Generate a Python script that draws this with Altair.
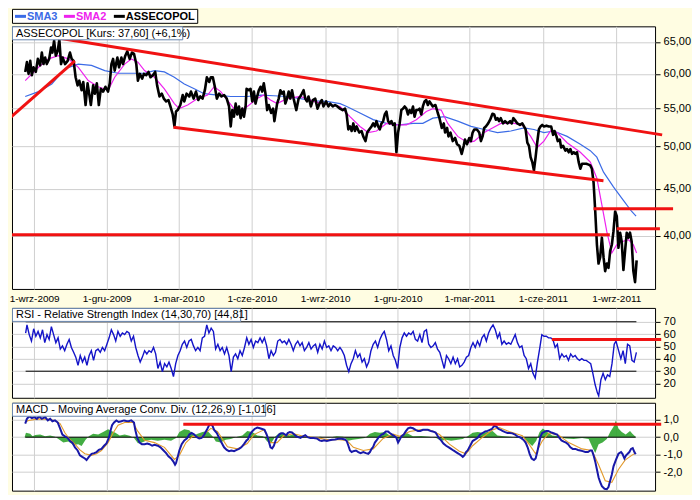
import json
import altair as alt
import pandas as pd

# ---------------------------------------------------------------- data
BASE = pd.Timestamp("2009-09-01")   # day offsets below are counted from 1-wrz-2009

price_day = [
    -11.2, -9.1, -7.0, -4.9, -2.9, -0.8, 2.1, 4.6, 7.5, 9.6,
    11.7, 13.8, 15.8, 18.8, 21.2, 22.9, 25.0, 27.1, 29.6, 31.6,
    33.7, 35.8, 38.7, 42.0, 44.9, 47.0, 49.5, 52.0, 54.5, 56.6,
    59.5, 61.6, 64.5, 67.0, 69.0, 71.1, 74.0, 76.1, 78.6, 81.1,
    83.6, 86.5, 89.4, 92.7, 94.8, 96.9, 99.0, 101.0, 104.4, 106.4,
    109.4, 111.4, 114.3, 116.8, 119.8, 122.7, 125.2, 128.1, 130.1, 132.6,
    135.5, 137.6, 140.5, 143.4, 145.9, 148.8, 151.8, 154.2, 157.2, 160.1,
    162.6, 165.5, 168.4, 170.9, 173.8, 175.9, 177.9, 180.0, 183.3, 186.3,
    188.3, 191.2, 194.6, 196.6, 200.0, 202.9, 205.8, 208.3, 211.2, 214.1,
    216.6, 219.5, 221.6, 224.1, 226.6, 229.1, 232.0, 234.9, 238.2, 241.5,
    244.4, 246.5,
    248.5, 250.6, 252.7, 254.8, 256.9, 258.9, 261.0, 263.1, 265.2, 266.4,
    269.3, 271.4, 273.5, 275.6, 277.6, 279.7, 281.8, 283.9, 286.0, 288.0,
    290.1, 292.2, 294.3, 297.2, 299.7, 301.3, 304.7, 306.7, 308.8, 310.9,
    313.0, 315.0, 317.1, 319.2, 321.3, 323.4, 325.4, 328.8, 331.7, 333.8,
    335.8, 337.9, 340.0, 342.1, 344.1, 347.1, 349.5, 352.5, 355.4, 357.9,
    360.8, 362.8, 366.2, 369.1, 371.2, 374.5, 377.4, 380.3, 383.6, 386.9,
    389.9, 391.9, 394.0, 396.1, 398.2, 400.3, 402.3, 404.4, 407.7, 410.6,
    412.7, 415.6, 417.7, 420.2, 423.1, 425.2, 427.3, 429.3, 431.4, 433.5,
    435.6, 437.7, 439.7, 441.8, 443.9, 446.0, 448.1, 450.1, 452.2, 454.3,
    456.4, 458.4, 460.5, 462.6, 464.7, 466.8, 468.8, 470.9, 473.0, 475.1,
    477.1, 479.2, 481.3, 483.4, 485.5, 487.5, 489.6, 491.7, 493.8, 495.8,
    500.0, 503.3, 506.2, 508.3,
    511.2, 513.7, 515.4, 517.9, 519.6, 522.1, 525.0, 527.9, 530.4, 533.3,
    536.2, 538.7, 540.3, 542.8, 545.7, 547.8, 549.9, 552.0, 555.3, 558.2,
    560.3, 562.4, 564.4, 566.5, 569.4, 571.9, 574.8, 576.9, 579.0, 581.1,
    583.1, 585.2, 588.1, 590.6, 593.5, 596.9, 599.0, 601.0, 603.9, 606.0,
    609.3, 612.2, 614.3, 616.4, 618.5, 620.6, 622.6, 624.7, 626.8, 628.9,
    630.9, 633.0, 635.1, 637.2, 639.3, 642.6, 645.5, 648.4, 650.9, 652.6,
    655.1, 656.7, 659.2, 660.9, 663.4, 666.3, 668.4, 670.4, 672.5, 674.6,
    676.7, 678.7, 680.8, 682.9, 685.0, 687.1, 689.1, 692.5, 695.4, 697.4,
    699.5, 701.6, 703.7, 705.8, 707.8, 709.9, 712.0, 714.1, 716.1, 718.2,
    720.3, 722.4, 724.5, 726.5, 728.6, 730.7, 732.8, 734.9, 736.9, 739.0,
    741.1, 743.2, 745.2, 747.3, 749.4, 751.5, 753.6, 755.6,
]
price_val = [
    60.3, 61.8, 60.0, 62.0, 59.8, 61.0, 60.3, 62.3, 61.3, 63.3,
    61.5, 62.5, 61.5, 62.3, 64.1, 63.3, 65.2, 62.8, 63.6, 65.4,
    61.5, 62.5, 61.5, 62.0, 63.3, 62.3, 62.0, 59.5, 58.3, 59.0,
    57.6, 58.8, 55.5, 58.6, 57.1, 55.5, 58.3, 57.1, 58.6, 55.5,
    57.8, 57.4, 58.1, 57.4, 58.6, 61.5, 62.3, 60.5, 62.5, 61.0,
    62.5, 61.5, 62.8, 63.5, 62.3, 63.3, 63.1, 61.5, 59.0, 60.0,
    59.3, 60.0, 59.8, 60.3, 59.5, 59.8, 60.3, 58.3, 56.7, 57.1,
    56.4, 56.0, 56.2, 55.3, 54.2, 52.6, 54.6, 54.8, 55.5, 56.9,
    56.0, 57.1, 56.7, 57.4, 56.4, 57.4, 56.2, 56.7, 56.4, 57.6,
    59.5, 58.8, 59.5, 59.5, 58.1, 56.4, 57.1, 56.7, 56.9, 56.4,
    55.3, 52.6,
    54.8, 53.9, 55.7, 54.2, 55.3, 53.7, 55.0, 53.9, 55.3, 57.8,
    57.6, 57.8, 56.0, 57.4, 55.7, 56.7, 57.6, 58.1, 57.4, 58.6,
    57.1, 54.8, 55.5, 54.4, 55.0, 53.3, 55.7, 56.4, 57.6, 57.1,
    57.4, 55.7, 56.4, 57.4, 56.4, 57.6, 56.4, 54.8, 56.4, 56.7,
    57.1, 57.6, 56.4, 56.0, 56.7, 55.3, 56.2, 56.4, 55.0, 55.7,
    56.2, 55.3, 56.0, 55.3, 55.7, 55.3, 55.5, 55.3, 55.0, 54.8,
    55.0, 54.2, 52.2, 52.6, 52.0, 53.0, 52.0, 52.6, 51.8, 52.0,
    51.3, 50.7, 51.8, 52.2, 52.6, 53.0, 52.6, 53.3, 52.6, 52.2,
    53.0, 53.3, 54.2, 54.6, 53.3, 53.0, 53.3, 52.8, 53.0, 49.3,
    51.8, 53.0, 54.8, 55.0, 55.3, 55.0, 54.2, 54.8, 54.4, 55.3,
    53.9, 54.8, 54.8, 55.0, 54.2, 55.3, 56.0, 56.2, 55.5, 56.0,
    55.3, 55.5, 54.4, 53.7,
    52.4, 53.0, 51.8, 52.4, 51.3, 51.8, 50.7, 51.1, 50.3, 50.1,
    49.1, 50.1, 50.9, 50.3, 51.1, 50.7, 51.8, 52.2, 52.2, 51.8,
    50.7, 51.3, 52.4, 52.6, 53.0, 53.5, 54.3, 54.2, 53.5, 53.7,
    53.3, 53.7, 53.0, 53.3, 53.0, 53.3, 53.0, 53.7, 53.3, 53.0,
    52.8, 53.0, 52.6, 52.2, 50.5, 50.1, 48.7, 48.1, 47.1, 48.7,
    50.5, 52.2, 52.6, 52.8, 52.6, 52.7, 52.6, 52.6, 51.5, 52.0,
    51.3, 50.7, 50.9, 49.9, 50.1, 49.5, 49.7, 49.3, 49.7, 49.1,
    49.3, 49.1, 49.3, 48.1, 47.3, 47.9, 47.9, 47.9, 47.8, 47.7,
    47.3, 45.7, 42.5, 39.1, 37.3, 37.9, 39.8, 37.9, 36.6, 37.3,
    36.9, 38.5, 39.1, 40.4, 42.5, 42.0, 38.8, 40.3, 39.4, 36.7,
    38.5, 40.3, 39.8, 40.3, 39.4, 36.6, 35.6, 37.6,
]

sma2_day = [
    -11.2, 5.5, 18.0, 30.4, 42.9, 55.4, 67.8, 80.3, 92.8, 101.0,
    113.5, 121.8, 130.2, 138.4, 150.9, 163.3, 175.8, 182.0, 192.5, 205.0,
    217.5, 225.7, 234.0, 250.6, 259.0, 267.3, 279.8, 288.0, 296.4, 304.7,
    317.2, 333.8, 350.4, 367.1, 383.7, 396.1, 408.6, 419.0, 429.4, 441.9,
    454.4, 466.8, 479.3, 491.8, 500.0, 510.5, 518.7, 531.2, 543.6, 552.0,
    564.5, 574.8, 585.3, 601.9, 612.2, 622.7, 630.9, 639.3, 647.6, 655.9,
    668.4, 685.0, 697.5, 705.7, 712.0, 718.2, 724.5, 730.7, 736.9, 745.3,
    751.5, 755.6,
]
sma2_val = [
    59.0, 61.0, 62.3, 62.8, 62.3, 61.0, 59.0, 58.1, 57.6, 59.5,
    61.5, 62.3, 61.8, 60.5, 59.5, 57.8, 55.7, 55.0, 55.5, 56.4,
    56.9, 58.1, 57.4, 55.0, 54.8, 55.3, 56.4, 56.9, 56.2, 55.7,
    56.4, 56.7, 56.0, 55.6, 55.3, 53.9, 52.6, 51.8, 52.0, 53.0,
    52.8, 52.8, 53.5, 54.6, 55.0, 54.8, 53.0, 51.3, 50.5, 50.7,
    51.8, 52.4, 53.0, 53.0, 52.8, 51.3, 49.9, 50.7, 52.0, 51.8,
    50.5, 49.3, 48.1, 46.2, 43.2, 40.4, 38.3, 39.1, 39.4, 39.6,
    39.1, 38.3,
]

sma3_day = [
    -11.2, 5.5, 22.1, 38.7, 55.4, 71.9, 88.5, 105.2, 121.8, 138.4,
    150.9, 163.3, 175.8, 188.3, 200.8, 213.2, 229.9, 246.5, 267.3, 283.9,
    300.5, 317.2, 333.8, 350.4, 367.1, 383.7, 392.0, 408.6, 425.2, 441.9,
    458.5, 475.1, 487.5, 500.0, 514.6, 531.2, 547.9, 564.5, 581.1, 597.8,
    614.3, 626.8, 639.3, 651.7, 668.4, 685.0, 697.5, 705.7, 714.1, 726.5,
    739.0, 749.4, 754.9,
]
sma3_val = [
    56.7, 57.4, 58.5, 60.8, 61.5, 61.3, 60.5, 60.1, 60.1, 60.1,
    60.5, 60.3, 59.5, 58.5, 57.8, 57.1, 56.9, 56.7, 56.7, 56.9,
    56.8, 56.7, 56.4, 56.1, 56.0, 55.7, 55.3, 54.4, 53.5, 53.0,
    52.8, 53.0, 53.0, 53.7, 53.9, 53.3, 52.6, 52.2, 51.8, 52.0,
    52.4, 52.2, 51.8, 52.0, 51.3, 50.3, 49.5, 48.7, 46.9, 45.2,
    43.7, 42.5, 42.0,
]

rsi_day = [
    -10.7, -9.0, -6.2, -3.4, -0.6, 2.1, 4.9, 7.7, 10.5, 13.3,
    16.1, 18.8, 21.6, 24.4, 27.2, 30.0, 32.8, 35.5, 38.3, 41.1,
    43.9, 46.7, 49.5, 52.2, 55.0, 57.8, 60.6, 63.4, 66.2, 69.0,
    71.7, 74.5, 77.3, 80.1, 82.9, 85.6, 88.4, 91.2, 94.0, 96.8,
    99.6, 102.3, 105.1, 107.9, 110.7, 113.5, 116.3, 119.0, 121.8, 124.6,
    127.4, 130.2, 133.0, 135.7, 138.5, 141.3, 144.1, 146.9, 149.7, 152.4,
    155.2, 158.0, 160.8, 163.6, 166.4, 169.1, 171.9, 174.7, 177.5, 180.3,
    183.1, 185.8, 188.6, 191.4, 194.2, 197.0, 199.8, 202.5, 205.3, 208.1,
    210.9, 213.7, 216.5, 219.2, 222.0, 224.8, 227.6, 230.4, 233.2, 235.9,
    238.7, 241.5, 244.3, 247.1, 249.9, 252.6, 255.4, 258.2, 261.0, 263.8,
    266.6, 269.3, 272.1, 274.9, 277.7, 280.5, 283.3, 286.0, 288.8, 291.6,
    294.4, 297.2, 300.0, 302.7, 305.5, 308.3, 311.1, 313.9, 316.7, 319.4,
    322.2, 325.0, 327.8, 330.6, 333.4, 336.1, 338.9, 341.7, 344.5, 347.3,
    350.1, 352.8, 355.6, 358.4, 361.2, 364.0, 366.8, 369.5, 372.3, 375.1,
    377.9, 380.7, 383.5, 386.2, 389.0, 391.8, 394.6, 397.4, 400.2, 402.9,
    405.7, 408.5, 411.3, 414.1, 416.9, 419.6, 422.4, 425.2, 428.0, 430.8,
    433.6, 436.3, 439.1, 441.9, 444.7, 447.5, 450.3, 453.0, 455.8, 458.6,
    461.4, 464.2, 467.0, 469.7, 472.5, 475.3, 478.1, 480.9, 483.7, 486.4,
    489.2, 492.0, 494.8, 497.6, 500.4, 503.1, 505.9, 508.7, 511.5, 514.3,
    517.1, 519.8, 522.6, 525.4, 528.2, 531.0, 533.7, 536.5, 539.3, 542.1,
    544.9, 547.7, 550.4, 553.2, 556.0, 558.8, 561.6, 564.4, 567.1, 569.9,
    572.7, 575.5, 578.3, 581.1, 583.8, 586.6, 589.4, 592.2, 595.0, 597.8,
    600.5, 603.3, 606.1, 608.9, 611.7, 614.5, 617.2, 620.0, 622.8, 625.6,
    628.4, 631.2, 633.9, 636.7, 639.5, 642.3, 645.1, 647.9, 650.6, 653.4,
    656.2, 659.0, 661.8, 664.6, 667.3, 670.1, 672.9, 675.7, 678.5, 681.3,
    684.0, 686.8, 689.6, 692.4, 695.2, 698.0, 700.7, 703.5, 706.3, 708.0,
    710.8, 713.5, 716.3, 719.1, 721.9, 724.7, 727.5, 729.7, 733.0, 735.8,
    738.6, 741.4, 744.2, 747.0, 749.7, 752.5, 755.3,
]
rsi_val = [
    60.9, 67.4, 59.6, 54.4, 64.3, 58.3, 62.2, 57.0, 63.5, 53.1,
    59.6, 55.7, 66.1, 59.6, 53.1, 57.0, 47.9, 50.5, 46.6, 51.8,
    55.7, 49.2, 45.3, 41.4, 34.8, 42.7, 37.4, 41.4, 34.8, 42.7,
    46.6, 38.8, 46.6, 47.9, 45.3, 49.2, 46.6, 51.8, 57.0, 63.5,
    59.6, 54.4, 62.2, 58.3, 60.9, 59.6, 62.2, 60.9, 54.4, 58.3,
    49.2, 42.7, 37.4, 41.4, 46.6, 44.0, 46.6, 45.3, 49.2, 44.0,
    32.2, 37.4, 29.6, 36.1, 33.5, 37.4, 32.2, 25.7, 36.1, 42.7,
    46.6, 51.8, 54.4, 49.2, 54.4, 55.7, 50.5, 46.6, 49.2, 46.6,
    57.0, 58.3, 67.4, 60.9, 64.8, 62.2, 47.9, 51.8, 46.6, 49.2,
    44.0, 49.2, 42.7, 29.6, 41.4, 44.0, 40.1, 46.6, 42.7, 49.2,
    57.0, 51.8, 55.7, 49.2, 54.4, 53.1, 57.0, 53.1, 57.0, 50.5,
    40.1, 46.6, 42.7, 45.3, 54.4, 55.7, 53.1, 54.4, 51.8, 55.7,
    51.8, 46.6, 51.8, 54.4, 50.5, 53.1, 46.6, 49.2, 53.1, 47.9,
    50.5, 51.8, 45.3, 51.8, 47.9, 54.4, 49.2, 50.5, 46.6, 50.5,
    49.2, 46.6, 49.2, 46.6, 42.7, 34.8, 29.6, 36.1, 40.1, 46.6,
    41.4, 44.0, 37.4, 40.1, 33.5, 37.4, 46.6, 51.8, 54.4, 49.2,
    55.7, 59.6, 62.2, 55.7, 46.6, 50.5, 42.7, 38.8, 32.2, 49.2,
    57.0, 60.9, 58.3, 60.9, 59.6, 62.2, 55.7, 54.4, 59.6, 53.1,
    62.2, 63.5, 51.8, 49.2, 50.5, 53.1, 47.9, 45.3, 38.8, 32.2,
    42.7, 40.1, 36.1, 41.4, 36.1, 40.1, 33.5, 34.8, 37.4, 41.4,
    42.7, 49.2, 53.1, 49.2, 54.4, 50.5, 57.0, 59.6, 54.4, 60.9,
    64.8, 67.4, 63.5, 57.0, 60.9, 51.8, 54.4, 51.8, 53.1, 51.8,
    55.7, 59.6, 53.1, 49.2, 50.5, 42.7, 40.1, 32.2, 36.1, 28.3,
    24.4, 37.4, 47.9, 59.6, 58.3, 58.3, 57.0, 57.0, 55.7, 49.2,
    51.8, 40.1, 44.0, 41.4, 42.7, 38.8, 44.0, 41.4, 42.7, 40.1,
    38.8, 40.1, 38.8, 38.8, 37.4, 36.1, 28.3, 19.2, 12.7, 10.1,
    23.1, 28.3, 23.1, 27.0, 25.7, 36.1, 51.8, 54.4, 46.6, 40.1,
    46.6, 36.1, 51.8, 50.5, 38.8, 37.4, 45.3,
]

macd_day = [
    -11.2, -9.1, -6.2, -2.9, 0.5, 3.4, 6.3, 9.6, 13.8, 17.1,
    20.0, 22.9, 26.2, 29.6, 32.5, 35.4, 38.7, 42.0, 44.9, 47.8,
    51.2, 54.5, 57.4, 60.3, 63.6, 65.7, 68.6, 72.0, 75.3, 78.2,
    81.1, 84.4, 87.7, 90.7, 93.6, 96.1, 97.7, 100.2, 103.1, 106.0,
    109.4, 112.7, 115.6, 118.5, 121.8, 125.2, 126.8, 129.3, 132.2, 135.1,
    138.5, 141.8, 144.7, 148.0, 150.9, 155.1, 158.4, 161.7, 165.5, 168.4,
    171.7, 174.6, 176.7, 177.9, 180.0, 182.1, 185.0, 188.3, 191.7, 194.6,
    197.5, 200.8, 204.1, 207.0, 210.0, 213.3, 216.6, 219.5, 221.6, 223.7,
    225.7, 229.1, 232.0, 234.9, 238.2, 241.5, 244.4, 247.3, 250.7, 254.0,
    256.9, 259.8, 263.1, 266.5, 268.1, 270.6, 273.5, 276.4, 279.8, 283.1,
    286.0, 288.9, 291.4, 293.1, 294.7, 296.4, 298.5, 300.6, 302.6, 304.7,
    307.2, 309.7, 312.2, 313.8, 316.3, 318.0, 320.5, 323.4, 326.3, 328.8,
    331.7, 333.8, 337.1, 340.0, 343.0, 346.3, 350.4, 354.6, 357.9, 360.8,
    363.7, 367.1, 370.4, 373.7, 377.4, 381.6, 385.7, 389.9, 392.0, 394.1,
    396.1, 398.2, 400.3, 403.6, 406.5, 409.4, 412.8, 416.1, 419.0, 421.1,
    423.2, 425.2, 427.3, 429.4, 431.5, 433.5, 435.6, 437.7, 441.0, 443.9,
    446.0, 448.9, 452.2, 454.3, 456.4, 458.5, 460.6, 463.5, 466.0, 468.9,
    471.8, 475.1, 478.4, 481.3, 484.2, 487.6, 490.9, 493.8, 496.7, 500.0,
    503.4, 505.0, 507.5, 510.4, 513.3, 516.7, 520.0, 522.9, 525.8, 529.1,
    532.5, 535.4, 537.5, 539.5, 541.6, 543.7, 545.8, 547.8, 549.9, 553.2,
    556.2, 559.1, 562.4, 565.7, 568.6, 571.5, 574.0, 576.9, 579.8, 582.3,
    585.2, 587.3, 590.7, 593.6, 596.5, 599.8, 603.1, 606.0, 608.9, 611.4,
    614.3, 616.4, 618.9, 621.4, 623.9, 626.8, 628.9, 631.0, 633.0, 635.1,
    637.2, 639.3, 642.2, 644.7, 647.6, 650.5, 653.8, 655.9, 658.0, 661.3,
    664.2, 667.1, 669.6, 672.5, 675.4, 678.8, 682.1, 685.0, 687.9, 691.2,
    694.6, 697.5, 699.5, 701.6, 703.7, 705.8, 707.9, 709.9, 712.0, 715.3,
    718.2, 720.3, 722.4, 724.5, 726.6, 729.5, 732.8, 736.1, 737.8, 740.3,
    742.4, 744.4, 746.5, 748.6, 750.7, 752.8, 754.4,
]
macd_val = [
    0.78, 1.05, 1.20, 1.09, 1.15, 1.05, 1.20, 1.05, 1.15, 0.96,
    1.05, 0.91, 0.96, 0.84, 0.51, 0.15, 0.05, -0.04, -0.22, -0.31,
    -0.58, -0.76, -1.04, -1.13, -1.22, -1.31, -1.13, -0.95, -0.91, -0.85,
    -0.73, -0.67, -0.49, -0.36, -0.04, 0.42, 0.69, 0.84, 0.96, 0.87,
    0.91, 0.96, 0.93, 0.91, 0.96, 0.84, 0.42, -0.04, -0.31, -0.40,
    -0.40, -0.36, -0.40, -0.49, -0.44, -0.49, -0.58, -0.73, -0.91, -1.09,
    -1.22, -1.40, -1.58, -1.49, -1.13, -0.76, -0.40, -0.18, -0.07, 0.15,
    0.24, 0.15, 0.00, -0.07, -0.04, 0.15, 0.42, 0.69, 0.73, 0.65,
    0.42, 0.24, -0.04, -0.31, -0.58, -0.73, -0.80, -0.76, -0.80, -0.73,
    -0.67, -0.58, -0.40, -0.18, -0.13, 0.15, 0.33, 0.47, 0.55, 0.51,
    0.47, 0.42, 0.18, -0.04, -0.31, -0.58, -0.64, -0.49, -0.22, 0.00,
    0.15, 0.22, 0.22, 0.18, 0.11, 0.24, 0.29, 0.27, 0.15, 0.05,
    0.00, -0.04, 0.05, 0.11, 0.00, -0.04, -0.04, -0.07, -0.18, -0.22,
    -0.18, -0.22, -0.18, -0.15, -0.13, -0.09, -0.09, -0.13, -0.22, -0.49,
    -0.76, -0.85, -0.80, -0.76, -0.85, -0.91, -0.85, -0.91, -0.95, -0.85,
    -0.67, -0.55, -0.31, -0.18, -0.04, 0.05, 0.15, 0.18, 0.33, 0.33,
    0.24, 0.15, 0.05, -0.04, -0.31, -0.13, 0.05, 0.15, 0.33, 0.51,
    0.55, 0.51, 0.42, 0.36, 0.36, 0.42, 0.42, 0.42, 0.36, 0.33,
    0.27, 0.15, -0.04, -0.18, -0.36, -0.49, -0.58, -0.67, -0.76, -0.85,
    -0.95, -1.04, -1.13, -1.04, -0.85, -0.76, -0.58, -0.40, -0.22, -0.13,
    -0.04, 0.15, 0.24, 0.33, 0.36, 0.42, 0.47, 0.65, 0.60, 0.47,
    0.42, 0.36, 0.29, 0.24, 0.24, 0.22, 0.15, 0.05, 0.00, -0.07,
    -0.18, -0.31, -0.58, -0.95, -1.22, -1.31, -1.22, -0.85, -0.40, 0.05,
    0.24, 0.29, 0.36, 0.36, 0.29, 0.24, 0.18, 0.15, 0.00, -0.18,
    -0.25, -0.31, -0.40, -0.58, -0.67, -0.67, -0.73, -0.76, -0.80, -0.85,
    -0.85, -0.76, -0.76, -1.04, -1.40, -1.85, -2.31, -2.58, -2.80, -2.95,
    -2.98, -2.85, -2.49, -2.13, -1.67, -1.31, -0.95, -0.85, -0.95, -1.22,
    -1.04, -0.95, -0.85, -0.67, -0.62, -0.85, -0.98,
]

signal_day = [
    -11.2, -7.0, 5.5, 17.9, 26.2, 32.5, 38.7, 44.9, 51.2, 57.4,
    63.6, 72.0, 78.2, 84.4, 92.7, 99.0, 105.2, 113.5, 123.9, 130.1,
    138.5, 150.9, 163.4, 175.9, 182.1, 190.4, 198.7, 209.1, 221.6, 229.9,
    242.4, 254.8, 267.3, 275.6, 288.1, 296.4, 304.7, 313.0, 325.5, 338.0,
    354.6, 371.2, 379.5, 392.0, 400.3, 412.8, 425.2, 437.7, 450.2, 458.5,
    471.0, 483.4, 495.9, 508.4, 520.8, 533.3, 541.6, 549.9, 562.4, 574.9,
    583.2, 595.6, 612.3, 620.6, 628.9, 637.2, 645.5, 658.0, 670.4, 687.1,
    699.5, 707.9, 716.2, 724.5, 732.8, 741.1, 749.4, 754.4,
]
signal_val = [
    0.87, 0.96, 1.05, 1.02, 0.96, 0.78, 0.24, -0.13, -0.40, -0.73,
    -0.95, -1.04, -0.95, -0.76, -0.31, 0.24, 0.69, 0.84, 0.84, 0.33,
    -0.18, -0.31, -0.58, -1.27, -1.04, -0.31, 0.05, 0.00, 0.51, 0.33,
    -0.55, -0.67, -0.36, 0.15, 0.42, -0.31, -0.31, 0.09, 0.20, 0.05,
    -0.04, -0.16, -0.13, -0.18, -0.58, -0.76, -0.67, -0.07, 0.18, 0.05,
    0.33, 0.42, 0.42, 0.15, -0.40, -0.80, -0.95, -0.49, 0.00, 0.42,
    0.55, 0.33, 0.09, -0.40, -0.95, -0.22, 0.24, 0.11, -0.31, -0.67,
    -0.76, -1.58, -2.49, -2.58, -1.85, -1.31, -1.04, -0.91,
]

hist_day = [
    -12.0, -10.3, -5.0, -2.0, 1.3, 7.5, 13.8, 20.0, 26.2, 30.4,
    36.6, 42.9, 49.1, 55.3, 59.5, 64.5, 68.6, 74.0, 80.3, 86.5,
    92.7, 96.9, 101.9, 107.3, 113.5, 119.8, 125.2, 130.1, 135.1, 140.5,
    146.8, 155.1, 163.4, 171.7, 178.0, 182.1, 188.3, 194.6, 200.0, 205.0,
    211.2, 217.4, 223.7, 227.8, 234.0, 240.3, 246.5, 254.8, 261.1, 267.3,
    273.5, 279.8, 287.2, 292.2, 297.2, 302.6, 308.0, 313.8, 320.5, 326.3,
    331.7, 340.0, 348.3, 358.7, 369.1, 379.5, 387.8, 394.1, 399.5, 406.5,
    414.8, 421.1, 427.3, 433.5, 439.8, 446.0, 452.2, 456.4, 460.6, 466.8,
    475.1, 485.5, 495.9, 504.2, 510.4, 516.7, 522.9, 531.2, 537.4, 543.7,
    549.9, 556.2, 562.4, 568.6, 574.9, 581.1, 589.4, 597.7, 606.0, 614.3,
    619.7, 624.7, 629.7, 633.9, 638.0, 643.4, 649.7, 658.0, 666.3, 676.7,
    687.1, 695.4, 700.4, 703.7, 707.9, 712.8, 718.2, 722.4, 726.6, 729.5,
    732.8, 737.0, 741.9, 747.3, 750.3, 753.6, 755.0,
]
hist_val = [
    0.0, 0.25, 0.20, 0.05, 0.12, 0.15, 0.05, 0.10, 0.02, -0.10,
    -0.30, -0.25, -0.45, -0.40, -0.50, -0.15, 0.05, 0.20, 0.15, 0.30,
    0.45, 0.35, 0.25, 0.10, 0.15, 0.08, -0.05, -0.35, -0.30, -0.20,
    -0.15, -0.20, -0.15, -0.20, -0.05, 0.30, 0.45, 0.40, 0.10, 0.20,
    0.30, 0.35, 0.05, -0.25, -0.30, -0.15, -0.10, 0.02, 0.10, 0.35,
    0.30, 0.10, 0.05, -0.25, -0.35, 0.05, 0.25, 0.20, 0.10, 0.20,
    0.05, 0.03, -0.05, 0.02, -0.03, 0.05, 0.02, -0.20, -0.15, -0.10,
    -0.05, 0.20, 0.30, 0.25, 0.30, 0.10, 0.15, -0.15, 0.10, 0.25,
    0.05, 0.07, 0.03, -0.05, -0.20, -0.15, -0.20, -0.15, -0.10, 0.05,
    0.25, 0.30, 0.25, 0.30, 0.35, 0.10, 0.05, 0.02, -0.05, -0.05,
    -0.30, -0.50, -0.20, 0.30, 0.50, 0.30, 0.10, 0.05, -0.08, -0.10,
    -0.05, -0.10, -0.60, -0.90, -0.40, -0.30, -0.10, 0.30, 0.60, 0.95,
    0.50, 0.30, 0.15, 0.35, 0.20, 0.05, 0.0,
]

# hand-drawn red trend lines on the price panel: (start day, start value, end day, end value)
trend_open_day1 = [31.7, 174.6, 701.5, 730.7]
trend_open_val1 = [65.6, 52.5, 42.8, 40.7]
trend_open_day2 = [787.6, 714.0, 801.3, 784.8]
trend_open_val2 = [51.5, 45.9, 42.8, 40.7]
trend_clip_day1 = [-34.0, -34.0]
trend_clip_val1 = [53.4, 40.1]
trend_clip_day2 = [51.1, 722.0]
trend_clip_val2 = [62.0, 40.1]
rsi_red = [649.3, 786.4, 55.6]
macd_red = [187.0, 786.4, 0.74]

tick_dates = ["2009-09-01", "2009-12-01", "2010-03-01", "2010-06-01", "2010-09-01",
              "2010-12-01", "2011-03-01", "2011-06-01", "2011-09-01"]
month_pl = ["sty", "lut", "mar", "kwi", "maj", "cze", "lip", "sie", "wrz", "paź", "lis", "gru"]
x_domain_days = [-27.8, 778.7]
price_ticks = [40, 45, 50, 55, 60, 65]
rsi_ticks = [20, 30, 40, 50, 60, 70]
macd_ticks = [-2, -1, 0, 1]
rsi_levels = [30, 70]
series_names = ["SMA3", "SMA2", "ASSECOPOL"]
series_colors = ["#3B6BE6", "#EE22EE", "#000000"]

price_title = "ASSECOPOL [Kurs: 37,60] (+6,1%)"
rsi_title = "RSI - Relative Strength Index (14,30,70) [44,81]"
macd_title = "MACD - Moving Average Conv. Div. (12,26,9) [-1,016]"

# ---------------------------------------------------------------- helpers
FONT = "Liberation Sans"
GRID = "#CFCFCF"
BG = "#FFFDE2"
BOXC = "#6A88B0"
RED = "#F01212"
W = 644


def to_dates(days):
    return [BASE + pd.Timedelta(days=float(d)) for d in days]


def dt(ts):
    return alt.DateTime(year=ts.year, month=ts.month, date=ts.day,
                        hours=ts.hour, minutes=ts.minute)


def series(days, vals):
    return pd.DataFrame({"date": to_dates(days), "v": vals})


x_scale = alt.Scale(domain=[dt(t) for t in to_dates(x_domain_days)])
tick_vals = [dt(pd.Timestamp(s)) for s in tick_dates]
label_expr = ("date(datum.value) + '-' + " + json.dumps(month_pl, ensure_ascii=False)
              + "[month(datum.value)] + '-' + year(datum.value)")

x_axis_lab = alt.Axis(values=tick_vals, labelExpr=label_expr, grid=True, gridColor=GRID,
                      ticks=False, domain=False, labelFont=FONT, labelFontSize=10,
                      labelColor="black", labelPadding=5, title=None,
                      labelFlush=False, labelOverlap=False)
x_axis_grid = alt.Axis(values=tick_vals, grid=True, gridColor=GRID, labels=False,
                       ticks=False, domain=False, title=None)


def y_axis(values, expr):
    return alt.Axis(orient="right", values=values, labelExpr=expr, grid=True,
                    gridColor=GRID, tickColor="black", tickSize=5, domain=False,
                    labelFont=FONT, labelFontSize=11, labelColor="black",
                    labelPadding=3, title=None)


def title_box(text, width):
    d = pd.DataFrame({"t": [text]})
    box = alt.Chart(d).mark_rect(fill="white", stroke=BOXC, strokeWidth=1).encode(
        x=alt.value(0.5), x2=alt.value(width), y=alt.value(0.5), y2=alt.value(13.5))
    txt = alt.Chart(d).mark_text(align="left", baseline="middle", font=FONT,
                                 fontSize=11, color="black").encode(
        x=alt.value(4), y=alt.value(7.5), text="t:N")
    return [box, txt]


# ---------------------------------------------------------------- price panel
p_scale = alt.Scale(type="log", domain=[35.0, 67.6], nice=False)
p_axis = y_axis(price_ticks, "replace(format(datum.value, '.2f'), '.', ',')")
PX = alt.X("date:T", scale=x_scale, axis=x_axis_lab)
PY = alt.Y("v:Q", scale=p_scale, axis=p_axis)

sma3 = alt.Chart(series(sma3_day, sma3_val)).mark_line(
    color=series_colors[0], strokeWidth=1.2).encode(x=PX, y=PY)
sma2 = alt.Chart(series(sma2_day, sma2_val)).mark_line(
    color=series_colors[1], strokeWidth=1.2).encode(x=PX, y=PY)
close = alt.Chart(series(price_day, price_val)).mark_line(
    color=series_colors[2], strokeWidth=2.6, strokeJoin="round").encode(x=PX, y=PY)

tr_open = pd.DataFrame({"date": to_dates(trend_open_day1), "v": trend_open_val1,
                        "date2": to_dates(trend_open_day2), "v2": trend_open_val2})
tr_clip = pd.DataFrame({"date": to_dates(trend_clip_day1), "v": trend_clip_val1,
                        "date2": to_dates(trend_clip_day2), "v2": trend_clip_val2})
red_open = alt.Chart(tr_open).mark_rule(color=RED, strokeWidth=3, clip=False).encode(
    x=PX, y=PY, x2="date2:T", y2="v2:Q")
red_clip = alt.Chart(tr_clip).mark_rule(color=RED, strokeWidth=3, clip=True).encode(
    x=PX, y=PY, x2="date2:T", y2="v2:Q")

# legend strip above the price panel
leg = pd.DataFrame({"t": ["legend"]})
leg_layers = [alt.Chart(leg).mark_rect(fill="white", stroke="black", strokeWidth=1).encode(
    x=alt.value(0.5), x2=alt.value(186), y=alt.value(-17), y2=alt.value(-3))]
leg_pos = [(2, 15), (51, 64), (101, 114)]
for (lx, tx), name, col in zip(leg_pos, series_names, series_colors):
    dd = pd.DataFrame({"t": [name]})
    leg_layers.append(alt.Chart(dd).mark_rule(color=col, strokeWidth=3).encode(
        x=alt.value(lx + 1), x2=alt.value(lx + 12), y=alt.value(-10)))
    leg_layers.append(alt.Chart(dd).mark_text(align="left", baseline="middle", font=FONT,
                                              fontSize=11, fontWeight="bold", color=col).encode(
        x=alt.value(tx), y=alt.value(-9.5), text="t:N"))

price = alt.layer(sma3, sma2, close, red_clip, red_open,
                  *title_box(price_title, 171), *leg_layers).properties(width=W, height=263)

# ---------------------------------------------------------------- RSI panel
GX = alt.X("date:T", scale=x_scale, axis=x_axis_grid)
r_scale = alt.Scale(domain=[8.5, 81.2], nice=False, zero=False)
RY = alt.Y("v:Q", scale=r_scale, axis=y_axis(rsi_ticks, "format(datum.value, 'd')"))

rsi_df = series(rsi_day, rsi_val)
lv = pd.DataFrame({"v": rsi_levels,
                   "date": to_dates([min(rsi_day)] * len(rsi_levels)),
                   "date2": to_dates([max(rsi_day)] * len(rsi_levels))})
rsi_lv = alt.Chart(lv).mark_rule(color="black", strokeWidth=1).encode(x=GX, x2="date2:T", y=RY)
rsi_line = alt.Chart(rsi_df).mark_line(color="#1414C8", strokeWidth=1.4).encode(x=GX, y=RY)
rsi_r = pd.DataFrame({"date": to_dates([rsi_red[0]]), "date2": to_dates([rsi_red[1]]),
                      "v": [rsi_red[2]]})
rsi_redl = alt.Chart(rsi_r).mark_rule(color=RED, strokeWidth=3, clip=False).encode(
    x=GX, x2="date2:T", y=RY)
rsi = alt.layer(rsi_lv, rsi_line, rsi_redl, *title_box(rsi_title, 229)).properties(
    width=W, height=90)

# ---------------------------------------------------------------- MACD panel
m_scale = alt.Scale(domain=[-3.06, 1.97], nice=False, zero=False)
MY = alt.Y("v:Q", scale=m_scale, axis=y_axis(
    macd_ticks, "(datum.value < 0 ? '-' : '') + replace(format(abs(datum.value), '.1f'), '.', ',')"))

hist = alt.Chart(series(hist_day, hist_val)).mark_area(color="#2FA42F", opacity=0.9).encode(
    x=GX, y=MY)
zero = pd.DataFrame({"v": [0], "date": to_dates([min(macd_day)]), "date2": to_dates([max(macd_day)])})
zero_l = alt.Chart(zero).mark_rule(color="black", strokeWidth=1).encode(x=GX, x2="date2:T", y=MY)
sig = alt.Chart(series(signal_day, signal_val)).mark_line(color="#E39A2B", strokeWidth=1.1).encode(
    x=GX, y=MY)
macd_l = alt.Chart(series(macd_day, macd_val)).mark_line(color="#1818A8", strokeWidth=2).encode(
    x=GX, y=MY)
m_r = pd.DataFrame({"date": to_dates([macd_red[0]]), "date2": to_dates([macd_red[1]]),
                    "v": [macd_red[2]]})
macd_redl = alt.Chart(m_r).mark_rule(color=RED, strokeWidth=3, clip=False).encode(
    x=GX, x2="date2:T", y=MY)
macd = alt.layer(hist, zero_l, sig, macd_l, macd_redl, *title_box(macd_title, 254)).properties(
    width=W, height=88)

chart = alt.vconcat(price, rsi, macd, spacing=2).properties(
    padding=0, background=BG
).configure_view(fill="white", stroke="black", strokeWidth=1)

chart.save("out.html", embed_options={"renderer": "svg", "actions": False})
